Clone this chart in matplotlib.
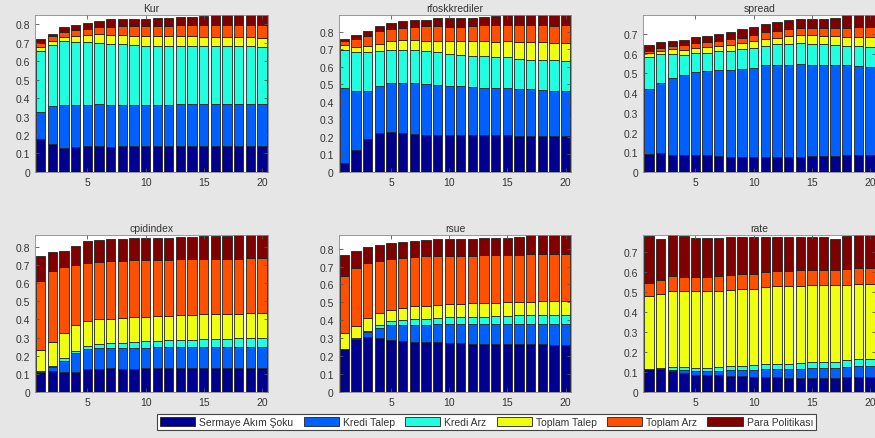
import numpy as np
import matplotlib
matplotlib.use("Agg")
import matplotlib.pyplot as plt

# shock names (legend order = stacking order, bottom to top)
shocks = ['Sermaye Akım Şoku', 'Kredi Talep', 'Kredi Arz',
          'Toplam Talep', 'Toplam Arz', 'Para Politikası']
colors = ['#00008f', '#0060ff', '#20ffdf', '#efff10', '#ff5000', '#800000']
periods = np.arange(1, 21)

# cumulative tops of each stacked segment
kur = [
    [0.177, 0.150, 0.130, 0.134, 0.139, 0.139, 0.137, 0.139, 0.140, 0.140,
     0.140, 0.140, 0.140, 0.140, 0.140, 0.140, 0.140, 0.140, 0.140, 0.140],
    [0.327, 0.357, 0.361, 0.364, 0.364, 0.368, 0.364, 0.364, 0.364, 0.361,
     0.364, 0.364, 0.368, 0.368, 0.368, 0.368, 0.368, 0.368, 0.368, 0.368],
    [0.655, 0.688, 0.706, 0.704, 0.704, 0.700, 0.695, 0.690, 0.686, 0.684,
     0.682, 0.682, 0.682, 0.682, 0.680, 0.679, 0.679, 0.679, 0.679, 0.677],
    [0.677, 0.709, 0.731, 0.736, 0.740, 0.744, 0.740, 0.740, 0.733, 0.733,
     0.733, 0.733, 0.733, 0.733, 0.731, 0.729, 0.729, 0.729, 0.729, 0.727],
    [0.700, 0.736, 0.760, 0.767, 0.776, 0.783, 0.785, 0.790, 0.790, 0.790,
     0.790, 0.790, 0.794, 0.794, 0.794, 0.794, 0.794, 0.794, 0.794, 0.794],
    [0.718, 0.749, 0.782, 0.794, 0.805, 0.816, 0.825, 0.827, 0.827, 0.830,
     0.834, 0.834, 0.838, 0.838, 0.845, 0.848, 0.848, 0.848, 0.848, 0.848],
]
rfoskkrediler = [
    [0.050, 0.125, 0.188, 0.223, 0.229, 0.221, 0.217, 0.213, 0.212, 0.212,
     0.212, 0.212, 0.212, 0.212, 0.212, 0.208, 0.208, 0.206, 0.206, 0.206],
    [0.480, 0.462, 0.465, 0.490, 0.506, 0.506, 0.506, 0.502, 0.498, 0.490,
     0.490, 0.487, 0.481, 0.479, 0.479, 0.475, 0.475, 0.469, 0.463, 0.463],
    [0.698, 0.683, 0.683, 0.688, 0.698, 0.698, 0.694, 0.688, 0.683, 0.673,
     0.669, 0.665, 0.663, 0.658, 0.654, 0.644, 0.642, 0.642, 0.638, 0.635],
    [0.727, 0.712, 0.717, 0.733, 0.750, 0.752, 0.756, 0.750, 0.750, 0.746,
     0.746, 0.746, 0.746, 0.742, 0.746, 0.742, 0.740, 0.740, 0.735, 0.735],
    [0.750, 0.762, 0.779, 0.804, 0.819, 0.823, 0.829, 0.833, 0.833, 0.827,
     0.827, 0.833, 0.837, 0.837, 0.838, 0.838, 0.837, 0.837, 0.833, 0.837],
    [0.762, 0.781, 0.804, 0.833, 0.852, 0.860, 0.865, 0.869, 0.877, 0.877,
     0.880, 0.882, 0.885, 0.890, 0.895, 0.895, 0.895, 0.895, 0.895, 0.895],
]
spread = [
    [0.090, 0.095, 0.086, 0.085, 0.085, 0.085, 0.081, 0.078, 0.078, 0.076,
     0.076, 0.076, 0.076, 0.078, 0.079, 0.081, 0.083, 0.085, 0.086, 0.086],
    [0.423, 0.453, 0.475, 0.490, 0.506, 0.512, 0.517, 0.517, 0.524, 0.529,
     0.541, 0.544, 0.544, 0.550, 0.544, 0.544, 0.541, 0.541, 0.539, 0.534],
    [0.585, 0.597, 0.600, 0.595, 0.605, 0.605, 0.615, 0.613, 0.626, 0.631,
     0.639, 0.648, 0.651, 0.653, 0.651, 0.648, 0.643, 0.639, 0.639, 0.636],
    [0.605, 0.614, 0.622, 0.619, 0.631, 0.636, 0.639, 0.643, 0.656, 0.665,
     0.676, 0.681, 0.690, 0.693, 0.693, 0.690, 0.690, 0.687, 0.687, 0.685],
    [0.616, 0.629, 0.639, 0.643, 0.654, 0.661, 0.666, 0.673, 0.681, 0.693,
     0.710, 0.715, 0.724, 0.730, 0.730, 0.730, 0.732, 0.732, 0.735, 0.736],
    [0.644, 0.659, 0.666, 0.670, 0.685, 0.692, 0.702, 0.712, 0.724, 0.737,
     0.752, 0.763, 0.769, 0.778, 0.778, 0.778, 0.783, 0.795, 0.795, 0.795],
]
cpidindex = [
    [0.111, 0.115, 0.108, 0.110, 0.128, 0.128, 0.130, 0.128, 0.128, 0.130,
     0.132, 0.132, 0.134, 0.134, 0.134, 0.134, 0.134, 0.134, 0.134, 0.134],
    [0.112, 0.139, 0.171, 0.213, 0.237, 0.241, 0.241, 0.241, 0.243, 0.245,
     0.247, 0.247, 0.249, 0.249, 0.249, 0.249, 0.249, 0.249, 0.249, 0.249],
    [0.113, 0.142, 0.186, 0.228, 0.256, 0.265, 0.268, 0.271, 0.275, 0.280,
     0.282, 0.284, 0.288, 0.288, 0.290, 0.293, 0.293, 0.295, 0.299, 0.297],
    [0.232, 0.275, 0.323, 0.371, 0.393, 0.401, 0.404, 0.408, 0.414, 0.414,
     0.419, 0.421, 0.425, 0.425, 0.429, 0.429, 0.431, 0.432, 0.438, 0.436],
    [0.612, 0.668, 0.692, 0.701, 0.711, 0.718, 0.722, 0.722, 0.726, 0.726,
     0.729, 0.729, 0.733, 0.733, 0.735, 0.735, 0.735, 0.735, 0.738, 0.738],
    [0.751, 0.770, 0.776, 0.807, 0.831, 0.840, 0.842, 0.846, 0.848, 0.850,
     0.852, 0.852, 0.855, 0.855, 0.859, 0.859, 0.859, 0.865, 0.865, 0.865],
]
rsue = [
    [0.240, 0.293, 0.308, 0.299, 0.287, 0.285, 0.280, 0.280, 0.276, 0.274,
     0.272, 0.270, 0.269, 0.267, 0.266, 0.266, 0.266, 0.266, 0.263, 0.263],
    [0.241, 0.297, 0.332, 0.357, 0.372, 0.374, 0.376, 0.376, 0.378, 0.379,
     0.379, 0.379, 0.379, 0.379, 0.379, 0.379, 0.379, 0.379, 0.379, 0.379],
    [0.242, 0.299, 0.338, 0.372, 0.394, 0.400, 0.406, 0.406, 0.413, 0.417,
     0.417, 0.417, 0.419, 0.423, 0.425, 0.428, 0.428, 0.428, 0.428, 0.428],
    [0.329, 0.368, 0.413, 0.439, 0.456, 0.469, 0.479, 0.479, 0.485, 0.488,
     0.490, 0.494, 0.498, 0.498, 0.500, 0.500, 0.503, 0.507, 0.507, 0.507],
    [0.648, 0.691, 0.721, 0.732, 0.744, 0.747, 0.753, 0.757, 0.761, 0.761,
     0.761, 0.761, 0.764, 0.764, 0.764, 0.764, 0.770, 0.772, 0.770, 0.772],
    [0.762, 0.785, 0.808, 0.819, 0.832, 0.838, 0.845, 0.849, 0.856, 0.856,
     0.856, 0.856, 0.860, 0.860, 0.860, 0.864, 0.875, 0.875, 0.875, 0.875],
]
rate = [
    [0.114, 0.117, 0.104, 0.097, 0.087, 0.084, 0.084, 0.081, 0.081, 0.074,
     0.074, 0.074, 0.072, 0.072, 0.072, 0.072, 0.072, 0.076, 0.076, 0.076],
    [0.115, 0.118, 0.111, 0.109, 0.104, 0.104, 0.106, 0.108, 0.111, 0.111,
     0.114, 0.114, 0.117, 0.117, 0.121, 0.121, 0.121, 0.124, 0.128, 0.128],
    [0.116, 0.119, 0.124, 0.124, 0.119, 0.122, 0.124, 0.128, 0.131, 0.134,
     0.139, 0.139, 0.139, 0.144, 0.148, 0.151, 0.151, 0.159, 0.164, 0.164],
    [0.482, 0.490, 0.507, 0.505, 0.505, 0.505, 0.507, 0.512, 0.517, 0.517,
     0.523, 0.528, 0.528, 0.530, 0.534, 0.534, 0.534, 0.534, 0.540, 0.540],
    [0.545, 0.562, 0.579, 0.577, 0.575, 0.577, 0.579, 0.587, 0.592, 0.592,
     0.601, 0.606, 0.606, 0.612, 0.612, 0.612, 0.612, 0.617, 0.621, 0.621],
    [0.780, 0.768, 0.785, 0.780, 0.772, 0.772, 0.772, 0.775, 0.775, 0.775,
     0.775, 0.775, 0.775, 0.775, 0.775, 0.775, 0.768, 0.780, 0.785, 0.785],
]

panels = [('Kur', kur), ('rfoskkrediler', rfoskkrediler), ('spread', spread),
          ('cpidindex', cpidindex), ('rsue', rsue), ('rate', rate)]

plt.rcParams['font.family'] = ['Liberation Sans', 'DejaVu Sans']

fig = plt.figure(figsize=(8.75, 4.39), dpi=100, facecolor='#e6e6e6')

# axes boxes in figure fractions (left, bottom, width, height)
lefts = [0.040, 0.387, 0.735]
bottoms = [0.606, 0.105]
w, h = 0.266, 0.357

for i, (name, tops) in enumerate(panels):
    ax = fig.add_axes([lefts[i % 3], bottoms[i // 3], w, h])
    tops = np.array(tops)
    base = np.zeros(len(periods))
    for k in range(len(shocks)):
        ax.bar(periods, tops[k] - base, bottom=base, width=0.8,
               color=colors[k], edgecolor='#222222', linewidth=0.6,
               label=shocks[k])
        base = tops[k]
    ax.set_xlim(0.5, 20.5)
    ax.set_ylim(0, tops.max())
    ax.set_xticks([5, 10, 15, 20])
    ax.set_yticks(np.arange(0, tops.max() + 0.001, 0.1))
    ax.yaxis.set_major_formatter(matplotlib.ticker.FuncFormatter(
        lambda v, p: '0' if abs(v) < 1e-9 else ('%.1f' % v)))
    ax.tick_params(direction='in', length=3, width=0.6, labelsize=7.5,
                   colors='#555555', labelcolor='#333333', top=True, right=True)
    for s in ax.spines.values():
        s.set_color('#888888')
        s.set_linewidth(0.6)
    ax.set_title(name, fontsize=7.5, color='#333333', pad=3)

handles, labels = ax.get_legend_handles_labels()
leg = fig.legend(handles, labels, loc='center', ncol=6,
                 bbox_to_anchor=(0.556, 0.036), fontsize=7.5,
                 handlelength=3.4, handleheight=1.0, handletextpad=0.35,
                 columnspacing=1.0, borderpad=0.3, fancybox=False,
                 framealpha=1)
leg.get_frame().set_edgecolor('#444444')
leg.get_frame().set_linewidth(0.8)
for t in leg.get_texts():
    t.set_color('#333333')

fig.savefig('out.png', dpi=100, facecolor=fig.get_facecolor())
